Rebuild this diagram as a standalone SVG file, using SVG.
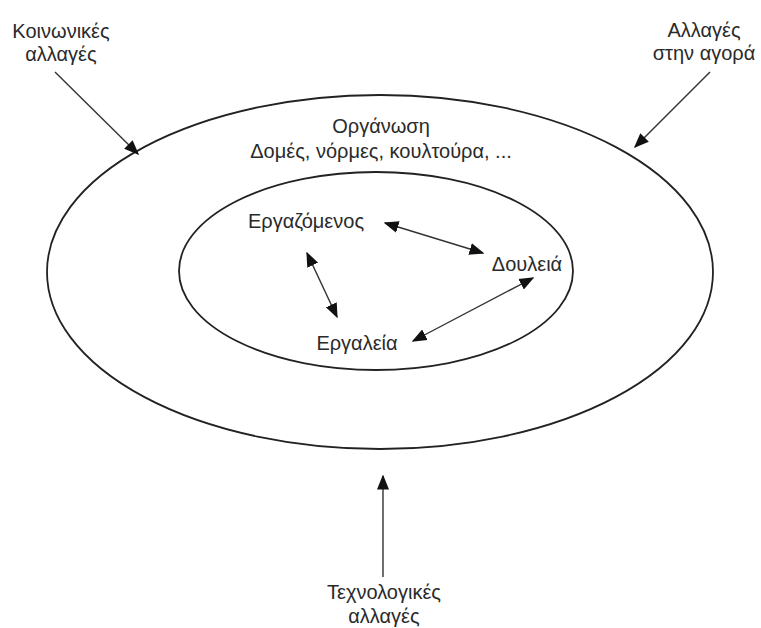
<svg xmlns="http://www.w3.org/2000/svg" width="761" height="628" viewBox="0 0 761 628">
  <style>
    .t { font-family: "Liberation Sans", Arial, sans-serif; font-size: 20px; fill: #2a2a2a; text-anchor: middle; }
    .ring { fill: none; stroke: #222; stroke-width: 1.8; }
    .c { stroke: #333; stroke-width: 1.4; fill: none; }
  </style>
  <defs>
    <marker id="ah" viewBox="0 0 10 10" refX="9" refY="5" markerWidth="15" markerHeight="15" markerUnits="userSpaceOnUse" orient="auto-start-reverse">
      <path d="M0,1 L10,5 L0,9 Z" fill="#111"/>
    </marker>
  </defs>
  <rect width="761" height="628" fill="#fff"/>

  <g id="organisation">
    <ellipse class="ring" cx="380" cy="272" rx="333" ry="177"/>
    <text class="t" x="381" y="133">Οργάνωση</text>
    <text class="t" x="381" y="158">Δομές, νόρμες, κουλτούρα, ...</text>
  </g>
  <g id="core">
    <ellipse class="ring" cx="376" cy="271" rx="197" ry="99"/>
  </g>
  <g id="employee"><text class="t" x="306" y="228">Εργαζόμενος</text></g>
  <g id="job"><text class="t" x="527" y="271">Δουλειά</text></g>
  <g id="tools"><text class="t" x="357" y="350">Εργαλεία</text></g>
  <g id="social"><text class="t" x="61" y="38">Κοινωνικές</text><text class="t" x="61" y="61">αλλαγές</text></g>
  <g id="market"><text class="t" x="704" y="37">Αλλαγές</text><text class="t" x="704" y="60">στην αγορά</text></g>
  <g id="tech"><text class="t" x="384" y="599">Τεχνολογικές</text><text class="t" x="384" y="623">αλλαγές</text></g>

  <g id="connectors">
    <line class="c" x1="55" y1="72" x2="138" y2="154" marker-end="url(#ah)"/>
    <line class="c" x1="710" y1="72" x2="635" y2="147" marker-end="url(#ah)"/>
    <line class="c" x1="383" y1="577" x2="383" y2="476" marker-end="url(#ah)"/>
    <line class="c" x1="385" y1="223" x2="483" y2="253" marker-start="url(#ah)" marker-end="url(#ah)"/>
    <line class="c" x1="307" y1="253" x2="337" y2="317" marker-start="url(#ah)" marker-end="url(#ah)"/>
    <line class="c" x1="413" y1="341" x2="533" y2="278" marker-start="url(#ah)" marker-end="url(#ah)"/>
  </g>
</svg>
